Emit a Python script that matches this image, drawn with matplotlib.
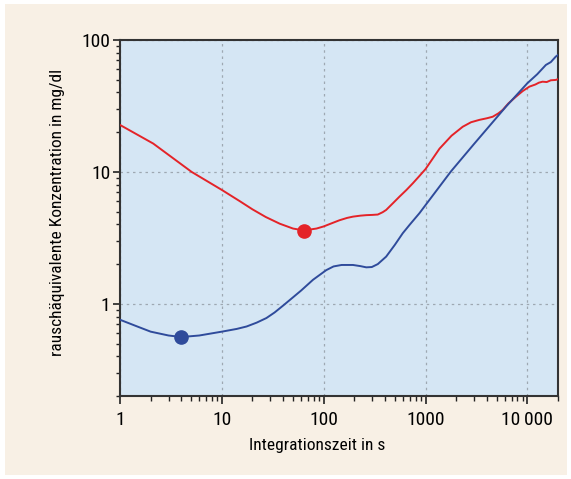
import matplotlib
matplotlib.use("Agg")
import matplotlib.pyplot as plt
from matplotlib.patches import Rectangle
from matplotlib.ticker import FixedLocator, FixedFormatter, LogLocator, NullFormatter

plt.rcParams["font.family"] = ["Noto Sans Condensed", "Roboto Condensed",
                               "Open Sans Condensed", "Roboto", "DejaVu Sans"]

# Integrationszeit (s) und rauschaequivalente Konzentration (mg/dl)
red_t = [1, 2.12, 5.05, 10, 15, 20, 27, 37, 50, 64, 85, 100, 120, 143, 170,
         194, 230, 262, 300, 340, 380, 411, 480, 556, 650, 751, 870, 1000,
         1372, 1800, 2320, 2800, 3380, 4000, 4570, 5200, 5730, 6500, 7740,
         9000, 10470, 12000, 13000, 14100, 15500, 17000, 19000, 20000]
red_c = [22.7, 16.4, 10.0, 7.3, 6.0, 5.2, 4.55, 4.05, 3.72, 3.6, 3.72, 3.86,
         4.08, 4.3, 4.48, 4.58, 4.66, 4.70, 4.72, 4.75, 4.95, 5.15, 5.8, 6.5,
         7.3, 8.2, 9.3, 10.5, 15.0, 18.8, 22.0, 23.8, 24.8, 25.5, 26.2, 27.8,
         29.5, 33.0, 37.2, 41.0, 44.3, 46.0, 47.5, 48.3, 48.0, 49.5, 49.8, 50.5]

blue_t = [1, 1.5, 2, 3, 4, 6, 10, 14, 17.5, 22, 27.4, 33, 40, 50, 60, 78.5,
          106, 125, 150, 194, 230, 262, 297, 340, 411, 500, 598, 700, 873,
          1000, 1780, 3000, 6180, 10000, 12500, 15200, 17000, 19000, 20000]
blue_c = [0.757, 0.67, 0.615, 0.575, 0.56, 0.575, 0.615, 0.645, 0.673, 0.72,
          0.78, 0.86, 0.97, 1.12, 1.26, 1.52, 1.80, 1.92, 1.97, 1.97, 1.93,
          1.89, 1.90, 2.0, 2.28, 2.8, 3.43, 3.98, 4.87, 5.6, 10.1, 16.3, 31.3,
          47.0, 55.0, 64.7, 68.0, 74.8, 77.0]

red_min = (64, 3.59)
blue_min = (4, 0.56)

x_ticks = [1, 10, 100, 1000, 10000]
x_labels = ["1", "10", "100", "1000", "10\u2009000"]
y_ticks = [1, 10, 100]
y_labels = ["1", "10", "100"]

RED = "#e42328"
BLUE = "#2f4b9b"
BEIGE = "#f8f0e5"
PANEL = "#d5e6f4"

fig = plt.figure(figsize=(5.71, 4.79), dpi=100, facecolor="white")
fig.patches.append(Rectangle((5 / 571, 4 / 479), 562 / 571, 471 / 479,
                             transform=fig.transFigure, facecolor=BEIGE,
                             edgecolor="none", zorder=-10))

ax = fig.add_axes([120 / 571, 1 - 396 / 479, 438 / 571, 356 / 479])
ax.set_facecolor(PANEL)
ax.set_xscale("log")
ax.set_yscale("log")
ax.set_xlim(1, 20000)
ax.set_ylim(0.2, 100)

ax.plot(red_t, red_c, color=RED, lw=1.4, zorder=3)
ax.plot(blue_t, blue_c, color=BLUE, lw=1.4, zorder=3)
ax.plot(*red_min, "o", color=RED, ms=9.5, zorder=4)
ax.plot(*blue_min, "o", color=BLUE, ms=9.5, zorder=4)

ax.xaxis.set_major_locator(FixedLocator(x_ticks))
ax.xaxis.set_major_formatter(FixedFormatter(x_labels))
ax.xaxis.set_minor_locator(LogLocator(base=10, subs=range(2, 10)))
ax.xaxis.set_minor_formatter(NullFormatter())
ax.yaxis.set_major_locator(FixedLocator(y_ticks))
ax.yaxis.set_major_formatter(FixedFormatter(y_labels))
ax.yaxis.set_minor_locator(LogLocator(base=10, subs=range(2, 10)))
ax.yaxis.set_minor_formatter(NullFormatter())

ax.tick_params(axis="x", which="major", length=6, width=1.2, pad=5,
               labelsize=14, color="#222222")
ax.tick_params(axis="x", which="minor", length=3.5, width=1.0, color="#222222")
ax.tick_params(axis="y", which="major", length=5, width=1.2, pad=2,
               labelsize=14, color="#222222")
ax.tick_params(axis="y", which="minor", length=3, width=1.0, color="#222222")

for s in ax.spines.values():
    s.set_linewidth(1.5)
    s.set_color("#333333")

ax.grid(True, which="major", color="#9ea8b2", linestyle=(0, (2, 3)), lw=0.9)
ax.set_axisbelow(True)

ax.set_xlabel("Integrationszeit in s", fontsize=12.5)
ax.set_ylabel("rauschäquivalente Konzentration in mg/dl", fontsize=12.5)
ax.xaxis.set_label_coords(0.45, -0.118)
ax.yaxis.set_label_coords(-0.1256, 0.515)

fig.savefig("out.png", dpi=100, facecolor=fig.get_facecolor())
